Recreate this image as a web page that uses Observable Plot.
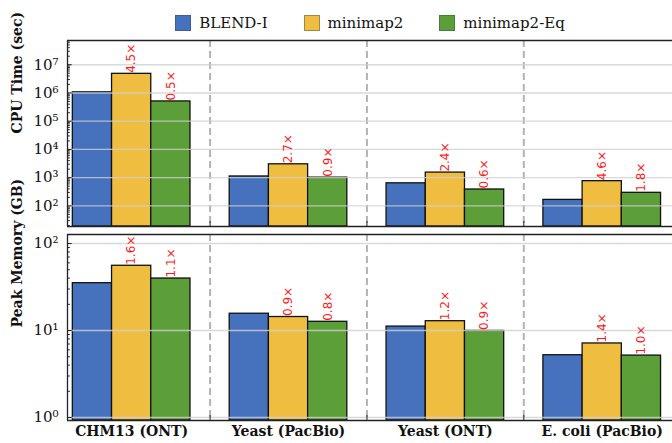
<!DOCTYPE html>
<html><head><meta charset="utf-8">
<script src="https://cdn.jsdelivr.net/npm/d3@7"></script>
<script src="https://cdn.jsdelivr.net/npm/@observablehq/plot@0.6"></script>
<style>
body{margin:0;background:#fff;width:672px;height:443px;overflow:hidden;position:relative;font-family:"DejaVu Serif",serif;}
#legend{position:absolute;top:14px;left:0;width:672px;display:flex;justify-content:center;padding-left:68px;box-sizing:border-box;font-size:15px;color:#111;}
.item{display:flex;align-items:center;margin:0 18px;}
.sw{width:14px;height:14px;border:1px solid rgba(60,70,90,0.45);margin-right:8px;}
#top{position:absolute;top:0;left:0;}
#bottom{position:absolute;top:228px;left:0;}
</style></head><body>
<div id="top"></div><div id="bottom"></div><div id="legend"></div>
<script>
const categories = ["CHM13 (ONT)", "Yeast (PacBio)", "Yeast (ONT)", "E. coli (PacBio)"];
const methods = ["BLEND-I", "minimap2", "minimap2-Eq"];
const colors = ["#4672bd", "#efbe41", "#5c9e37"];

const cpuBlend = [1.05e6, 1.1e3, 630, 163];
const cpuMinimap2 = [4.75e6, 2.97e3, 1.51e3, 750];
const cpuMinimap2Eq = [5.0e5, 1.0e3, 380, 290];
const cpuLabelsMinimap2 = ["4.5×", "2.7×", "2.4×", "4.6×"];
const cpuLabelsEq = ["0.5×", "0.9×", "0.6×", "1.8×"];

const memBlend = [35, 15.6, 11.1, 5.2];
const memMinimap2 = [55.5, 14.3, 12.8, 7.1];
const memMinimap2Eq = [39.6, 12.6, 9.9, 5.15];
const memLabelsMinimap2 = ["1.6×", "0.9×", "1.2×", "1.4×"];
const memLabelsEq = ["1.1×", "0.8×", "0.9×", "1.0×"];

const cpuTicks = [1e2, 1e3, 1e4, 1e5, 1e6, 1e7];
const memTicks = [1, 10, 100];

const xDomain = [-0.409, 3.448];
const barW = 0.25;
const sup = "⁰¹²³⁴⁵⁶⁷⁸⁹";
const fmt = d => "10" + sup[Math.round(Math.log10(d))];

function minorTicks(dom) {
  const out = [];
  for (let e = Math.floor(Math.log10(dom[0])); e <= Math.ceil(Math.log10(dom[1])); e++)
    for (let k = 2; k <= 9; k++) { const v = k * 10 ** e; if (v > dom[0] && v < dom[1]) out.push(v); }
  return out;
}

function panel({series, labels, ticks, yDomain, title, height, marginTop, marginBottom, showX}) {
  const rows = [];
  series.forEach((vals, j) => vals.forEach((v, i) => rows.push({i, j, value: v, label: j > 0 ? labels[j - 1][i] : null})));
  const x1 = d => d.i - 1.5 * barW + d.j * barW;
  const marks = [
    Plot.ruleX([0.5, 1.5, 2.5], {stroke: "#b3b3b3", strokeWidth: 2, strokeDasharray: "7,4"}),
    ...methods.map((m, j) => Plot.rect(rows.filter(d => d.j === j), {
      x1, x2: d => x1(d) + barW, y1: yDomain[0], y2: "value",
      fill: colors[j], stroke: "#111", strokeWidth: 1.3
    })),
    Plot.ruleY(ticks, {stroke: "#d0d0d0", strokeWidth: 1.4, strokeOpacity: 0.8}),
    Plot.text(rows.filter(d => d.j > 0), {
      x: d => x1(d) + barW / 2, y: "value", text: "label", rotate: -90, textAnchor: "start",
      fill: "#ff1a1a", fontSize: 12, fontFamily: "DejaVu Sans", dy: -1
    }),
    Plot.ruleY(minorTicks(yDomain), {x1: xDomain[0], x2: xDomain[0] + 0.018, stroke: "#222"}),
    Plot.ruleY(ticks, {x1: xDomain[0], x2: xDomain[0] + 0.03, stroke: "#222"}),
    Plot.ruleX([0.5, 1.5, 2.5], {stroke: "#222", insetTop: height - marginTop - marginBottom - 5}),
    Plot.ruleY([yDomain[1]], {stroke: "#222", strokeWidth: 1.3}),
    Plot.ruleY([yDomain[0]], {stroke: "#222", strokeWidth: 1.3}),
    Plot.ruleX([xDomain[0]], {stroke: "#222", strokeWidth: 1.3}),
    Plot.text([title], {frameAnchor: "left", rotate: -90, dx: -50, fontWeight: "bold", fontSize: 14, fill: "#111"})
  ];
  if (showX) marks.push(Plot.text(categories, {x: (d, i) => i, frameAnchor: "bottom", dy: 15, fontWeight: "bold", fontSize: 14, fill: "#111"}));
  return Plot.plot({
    width: 672, height, marginLeft: 67, marginRight: 0, marginTop, marginBottom,
    style: {fontFamily: "DejaVu Serif", fontSize: "15px", color: "#111", background: "transparent", overflow: "visible"},
    x: {domain: xDomain, axis: null},
    y: {type: "log", domain: yDomain, ticks, tickFormat: fmt, tickSize: 0, tickPadding: 9, label: null},
    marks
  });
}

document.getElementById("top").appendChild(panel({
  series: [cpuBlend, cpuMinimap2, cpuMinimap2Eq],
  labels: [cpuLabelsMinimap2, cpuLabelsEq],
  ticks: cpuTicks, yDomain: [18.6, 7.2e7], title: "CPU Time (sec)",
  height: 228, marginTop: 40, marginBottom: 2, showX: false
}));
document.getElementById("bottom").appendChild(panel({
  series: [memBlend, memMinimap2, memMinimap2Eq],
  labels: [memLabelsMinimap2, memLabelsEq],
  ticks: memTicks, yDomain: [0.924, 127], title: "Peak Memory (GB)",
  height: 215, marginTop: 6, marginBottom: 23, showX: true
}));

const legend = document.getElementById("legend");
methods.forEach((m, j) => {
  const it = document.createElement("div"); it.className = "item";
  const sw = document.createElement("div"); sw.className = "sw"; sw.style.background = colors[j];
  const t = document.createElement("span"); t.textContent = m;
  it.appendChild(sw); it.appendChild(t); legend.appendChild(it);
});
</script>
</body></html>
